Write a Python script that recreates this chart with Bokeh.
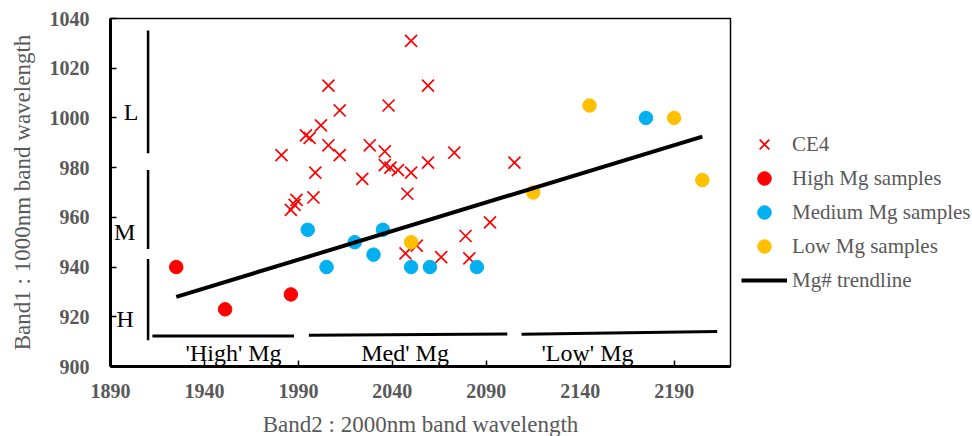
from bokeh.plotting import figure
from bokeh.models import Legend, LegendItem, FixedTicker, ColumnDataSource, LabelSet
from bokeh.embed import file_html
from bokeh.resources import INLINE

# ---------------- data ----------------
ce4_x = [2050, 2006, 2059, 2038, 2012, 2002, 1994, 1996, 2006, 2028, 2036, 2073,
         1981, 2012, 2059, 2105, 2036, 2039, 2043, 1999, 2050, 2024, 2048, 1998,
         1989, 1988, 1986, 2092, 2079, 2053, 2047, 2066, 2081]
ce4_y = [1031, 1013, 1013, 1005, 1003, 997, 993, 992, 989, 989, 986.5, 986,
         985, 985, 982, 982, 981, 980, 979, 978, 978, 975.5, 969.5, 968,
         967, 965, 963, 958, 952.5, 948.6, 945.5, 944, 943.5]

high_x = [1925, 1951, 1986]
high_y = [940, 923, 929]

med_x = [1995, 2005, 2020, 2030, 2035, 2050, 2060, 2085, 2175]
med_y = [955, 940, 950, 945, 955, 940, 940, 940, 1000]

low_x = [2050, 2115, 2145, 2190, 2205]
low_y = [950, 970, 1005, 1000, 975]

trend_x = [1925, 2205]
trend_y = [928, 992.5]

x_ticks = [1890, 1940, 1990, 2040, 2090, 2140, 2190]
y_ticks = [900, 920, 940, 960, 980, 1000, 1020, 1040]

# band-group annotations (vertical bars on the left, L / M / H)
grp_labels = ["L", "M", "H"]
grp_bar_y0 = [1035.2, 979.1, 943.2]
grp_bar_y1 = [985.8, 947.3, 910.6]
grp_bar_x = [1910, 1910, 1910]
grp_label_x = [1901, 1897.5, 1897.8]
grp_label_y = [999.2, 950.9, 916.0]

# Mg-group annotations (horizontal bars at the bottom)
mg_labels = ["'High' Mg", "Med' Mg", "'Low' Mg"]
mg_bar_x0 = [1912.3, 1995.6, 2108.8]
mg_bar_x1 = [1987.7, 2101.2, 2212.9]
mg_bar_y0 = [912.3, 912.6, 913.0]
mg_bar_y1 = [912.3, 913.1, 914.1]
mg_label_x = [1955.5, 2046.8, 2143.9]
mg_label_y = [902.3, 902.3, 902.3]

RED = "#FF0000"
BLUE = "#00B0F0"
ORANGE = "#FFC000"
GRAY = "#595959"
SERIF = "Liberation Serif"

p = figure(frame_width=620, frame_height=348,
           x_range=(1890, 2220), y_range=(900, 1040),
           output_backend="svg", toolbar_location=None,
           min_border_left=110, min_border_top=18, min_border_right=236,
           min_border_bottom=10)
p.background_fill_color = "white"
p.border_fill_color = "white"
p.outline_line_color = "black"
p.outline_line_width = 1.5
p.xgrid.visible = False
p.ygrid.visible = False

for ax in (p.xaxis[0], p.yaxis[0]):
    ax.axis_line_width = 3
    ax.axis_line_color = "black"
    ax.major_tick_in = 6
    ax.major_tick_out = 0
    ax.major_tick_line_width = 1.5
    ax.major_tick_line_color = "black"
    ax.minor_tick_line_color = None
    ax.major_label_text_font = SERIF
    ax.major_label_text_font_style = "bold"
    ax.major_label_text_font_size = "20px"
    ax.major_label_text_color = GRAY
    ax.axis_label_text_font = SERIF
    ax.axis_label_text_font_style = "normal"
    ax.axis_label_text_font_size = "23px"
    ax.axis_label_text_color = GRAY

p.xaxis.ticker = FixedTicker(ticks=x_ticks)
p.yaxis.ticker = FixedTicker(ticks=y_ticks)
p.xaxis.axis_label = "Band2 : 2000nm band wavelength"
p.yaxis.axis_label = "Band1 : 1000nm band wavelength"
p.xaxis.major_label_standoff = 17
p.yaxis.major_label_standoff = 21
p.xaxis.axis_label_standoff = 11
p.yaxis.axis_label_standoff = 12

# annotations
p.segment(x0=grp_bar_x, y0=grp_bar_y0, x1=grp_bar_x, y1=grp_bar_y1,
          line_color="black", line_width=2.5)
p.segment(x0=mg_bar_x0, y0=mg_bar_y0, x1=mg_bar_x1, y1=mg_bar_y1,
          line_color="black", line_width=3)
grp_src = ColumnDataSource(dict(x=grp_label_x, y=grp_label_y, t=grp_labels))
p.add_layout(LabelSet(x="x", y="y", text="t", source=grp_src,
                      text_font=SERIF, text_font_size="24px", text_color="black",
                      text_align="center", text_baseline="alphabetic"))
mg_src = ColumnDataSource(dict(x=mg_label_x, y=mg_label_y, t=mg_labels))
p.add_layout(LabelSet(x="x", y="y", text="t", source=mg_src,
                      text_font=SERIF, text_font_size="24px", text_color="black",
                      text_align="center", text_baseline="alphabetic"))

# series
r_ce4 = p.scatter(ce4_x, ce4_y, marker="x", size=17, line_width=1.7,
                  line_color=RED)
r_high = p.scatter(high_x, high_y, marker="circle", size=13.5,
                   fill_color=RED, line_color=RED)
r_med = p.scatter(med_x, med_y, marker="circle", size=13.5,
                  fill_color=BLUE, line_color=BLUE)
r_low = p.scatter(low_x, low_y, marker="circle", size=13.5,
                  fill_color=ORANGE, line_color=ORANGE)
r_trend = p.line(trend_x, trend_y, line_color="black", line_width=4)

legend = Legend(items=[
    LegendItem(label="CE4", renderers=[r_ce4]),
    LegendItem(label="High Mg samples", renderers=[r_high]),
    LegendItem(label="Medium Mg samples", renderers=[r_med]),
    LegendItem(label="Low Mg samples", renderers=[r_low]),
    LegendItem(label="Mg# trendline", renderers=[r_trend]),
], location=(11, 69))
legend.border_line_color = None
legend.background_fill_alpha = 0
legend.label_text_font = SERIF
legend.label_text_font_size = "21px"
legend.label_text_color = GRAY
legend.glyph_width = 46
legend.glyph_height = 34
legend.label_height = 20
legend.label_standoff = 5
legend.spacing = 0
legend.padding = 0
legend.margin = 0
p.add_layout(legend, "right")

open("out.html", "w").write(file_html(p, INLINE))
